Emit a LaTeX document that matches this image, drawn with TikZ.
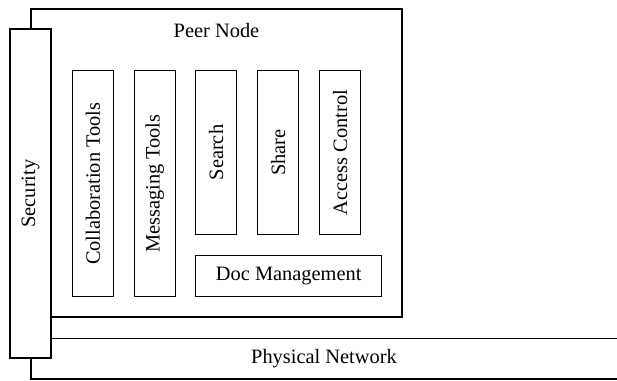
\documentclass[tikz,border=0pt]{standalone}
\usepackage{fontspec}
\setmainfont{Liberation Serif}
\begin{document}
\begin{tikzpicture}[x=1pt,y=-1pt,
  every node/.style={font=\fontsize{20.4}{24}\selectfont},
  vbox/.style={draw,line width=1.1pt,rotate=90,inner sep=0pt,minimum height=41pt},
  hbox/.style={draw,line width=1.1pt,inner sep=0pt},
  frame/.style={draw,line width=1.1pt}]
\useasboundingbox (0,0) rectangle (617,380);
% Peer node frame
\node[hbox,minimum width=371pt,minimum height=308pt] (peer) at (216.5,163) {};
\node (peerlbl) at (216.5,31) {Peer Node};
% Physical network
\coordinate (pnTR) at (617,338.5);
\coordinate (pnBR) at (617,379);
\draw[line width=1.3pt] (pnTR) -- (31,338.5) -- (31,379) -- (pnBR);
\node (pnlbl) at (324,359) {Physical Network};
% Security
\node[vbox,fill=white,minimum width=329pt] (sec) at (30.5,193.5) {Security};
% Inner boxes
\node[vbox,minimum width=226pt] (collab) at (92.8,183.7) {Collaboration Tools};
\node[vbox,minimum width=226pt] (msg) at (154.8,183.7) {Messaging Tools};
\node[vbox,minimum width=163.6pt] (search) at (216.2,152.5) {Search};
\node[vbox,minimum width=163.6pt] (share) at (278.2,152.5) {Share};
\node[vbox,minimum width=163.6pt] (acc) at (340.2,152.5) {Access Control};
\node[hbox,minimum width=186pt,minimum height=41pt] (doc) at (288.7,276.2) {Doc Management};
\end{tikzpicture}
\end{document}
